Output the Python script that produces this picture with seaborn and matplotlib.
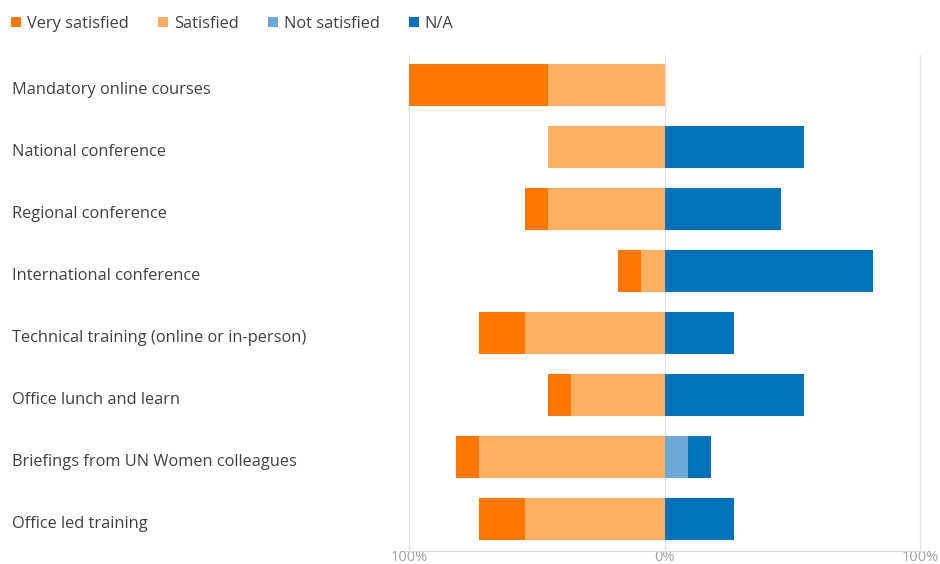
import matplotlib
matplotlib.use("Agg")
import matplotlib.pyplot as plt
import matplotlib.transforms as mtransforms
from matplotlib.patches import Patch
import seaborn as sns
import pandas as pd

categories = [
    "Mandatory online courses",
    "National conference",
    "Regional conference",
    "International conference",
    "Technical training (online or in-person)",
    "Office lunch and learn",
    "Briefings from UN Women colleagues",
    "Office led training",
]
very_satisfied = [54.5, 0.0, 9.1, 9.1, 18.2, 9.1, 9.1, 18.2]
satisfied = [45.5, 45.5, 45.5, 9.1, 54.5, 36.4, 72.7, 54.5]
not_satisfied = [0.0, 0.0, 0.0, 0.0, 0.0, 0.0, 9.1, 0.0]
not_applicable = [0.0, 54.5, 45.5, 81.8, 27.3, 54.5, 9.1, 27.3]

series_names = ["Very satisfied", "Satisfied", "Not satisfied", "N/A"]
colors = ["#FF7700", "#FFAF60", "#6AAAD5", "#0072BB"]
tick_values = [-100, 0, 100]
tick_labels = ["100%", "0%", "100%"]

sns.set_theme(style="white")
plt.rcParams["font.family"] = ["Open Sans", "DejaVu Sans"]

df = pd.DataFrame({
    "category": categories,
    "very": very_satisfied,
    "sat": satisfied,
    "notsat": not_satisfied,
    "na": not_applicable,
})
# Satisfaction goes to the left of zero, the rest to the right;
# longer cumulative bars are drawn first so the shorter ones sit on top.
df["left_outer"] = -(df["very"] + df["sat"])
df["left_inner"] = -df["sat"]
df["right_outer"] = df["notsat"] + df["na"]
df["right_inner"] = df["notsat"]

fig = plt.figure(figsize=(9.4, 5.64), dpi=100)
W, H = 940, 564
x_lo, x_hi = -102, 102
px_per_unit = 2.555
ax_left = 409 - 2 * px_per_unit
ax_width = (x_hi - x_lo) * px_per_unit
ax_top, ax_bottom = 55, 551
ax = fig.add_axes([ax_left / W, 1 - ax_bottom / H, ax_width / W, (ax_bottom - ax_top) / H])

bar_w = 0.68
for col, color in [("left_outer", colors[0]), ("left_inner", colors[1]),
                   ("right_outer", colors[3]), ("right_inner", colors[2])]:
    sns.barplot(data=df, x=col, y="category", order=categories, orient="h",
                color=color, width=bar_w, linewidth=0, saturation=1,
                ax=ax, zorder=3)

ax.set_xlim(x_lo, x_hi)
ax.set_ylim(7.52, -0.48)
ax.set_xlabel("")
ax.set_ylabel("")
for s in ["top", "right", "left"]:
    ax.spines[s].set_visible(False)
ax.spines["bottom"].set_color("#D9D9D9")
ax.spines["bottom"].set_linewidth(0.8)

for v in tick_values:
    ax.axvline(v, color="#E3E3E3", linewidth=0.9, zorder=1)

ax.set_xticks(tick_values)
ax.set_xticklabels(tick_labels)
ax.tick_params(axis="x", length=0, pad=-1, labelsize=10.5, labelcolor="#A0A0A0")

# Category names, left-aligned at the figure edge
ax.set_yticks(range(len(categories)))
ax.set_yticklabels([])
ax.tick_params(axis="y", length=0)
label_tf = mtransforms.blended_transform_factory(fig.transFigure, ax.transData) + \
    mtransforms.ScaledTranslation(0, -5 / 100, fig.dpi_scale_trans)
for i, name in enumerate(categories):
    ax.text(12 / W, i, name, transform=label_tf, ha="left", va="center",
            fontsize=11.8, color="#404040", clip_on=False)

handles = [Patch(facecolor=c, edgecolor="none", label=n) for c, n in zip(colors, series_names)]
fig.legend(handles=handles, loc="upper left", bbox_to_anchor=(0.0, 0.992),
           ncol=4, frameon=False, handlelength=0.6, handleheight=0.6,
           handletextpad=0.35, columnspacing=1.8, borderaxespad=0.3,
           prop={"size": 11.8}, labelcolor="#404040")

fig.savefig("out.png", dpi=100)
